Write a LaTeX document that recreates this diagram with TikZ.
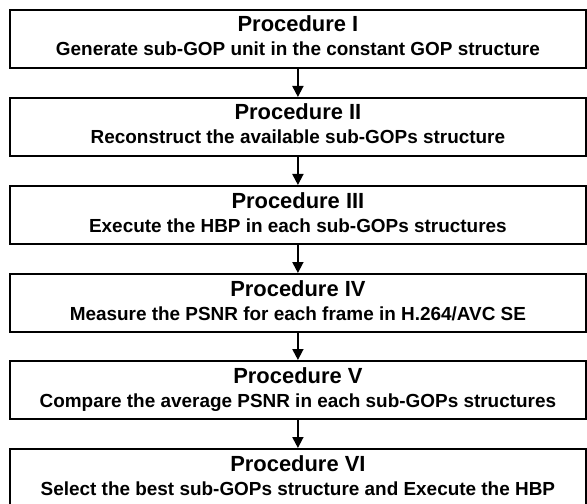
\documentclass[tikz,border=0pt]{standalone}
\usepackage{fontspec}
\setmainfont{Liberation Sans}
\usetikzlibrary{arrows.meta}
\begin{document}
\begin{tikzpicture}[x=1bp,y=-1bp,
  procbox/.style={draw=black,line width=1.8bp,minimum width=576bp,minimum height=58bp,inner sep=0pt,anchor=north west},
  flow/.style={line width=1.8bp,-{Triangle[length=11bp,width=11bp]}},
  ttl/.style={font=\fontsize{22}{25}\selectfont\bfseries,anchor=base,inner sep=0pt},
  sub/.style={font=\fontsize{19}{22}\selectfont\bfseries,anchor=base,inner sep=0pt},
]
\useasboundingbox[fill=white] (0,0) rectangle (587,504);
\foreach \i/\y in {1/9,2/97,3/185,4/273,5/360,6/448}{
  \node[procbox] (p\i) at (9,\y) {};
}
\node[ttl] (t1) at ([yshift=-23bp]p1.north) {Procedure I};
\node[sub] (s1) at ([yshift=-47bp]p1.north) {Generate sub-GOP unit in the constant GOP structure};
\node[ttl] (t2) at ([yshift=-23bp]p2.north) {Procedure II};
\node[sub] (s2) at ([yshift=-47bp]p2.north) {Reconstruct the available sub-GOPs structure};
\node[ttl] (t3) at ([yshift=-23bp]p3.north) {Procedure III};
\node[sub] (s3) at ([yshift=-47bp]p3.north) {Execute the HBP in each sub-GOPs structures};
\node[ttl] (t4) at ([yshift=-23bp]p4.north) {Procedure IV};
\node[sub] (s4) at ([yshift=-47bp]p4.north) {Measure the PSNR for each frame in H.264/AVC SE};
\node[ttl] (t5) at ([yshift=-23bp]p5.north) {Procedure V};
\node[sub] (s5) at ([yshift=-47bp]p5.north) {Compare the average PSNR in each sub-GOPs structures};
\node[ttl] (t6) at ([yshift=-23bp]p6.north) {Procedure VI};
\node[sub] (s6) at ([yshift=-47bp]p6.north) {Select the best sub-GOPs structure and Execute the HBP};
\draw[flow] (p1) -- (p2);
\draw[flow] (p2) -- (p3);
\draw[flow] (p3) -- (p4);
\draw[flow] (p4) -- (p5);
\draw[flow] (p5) -- (p6);
\end{tikzpicture}
\end{document}
